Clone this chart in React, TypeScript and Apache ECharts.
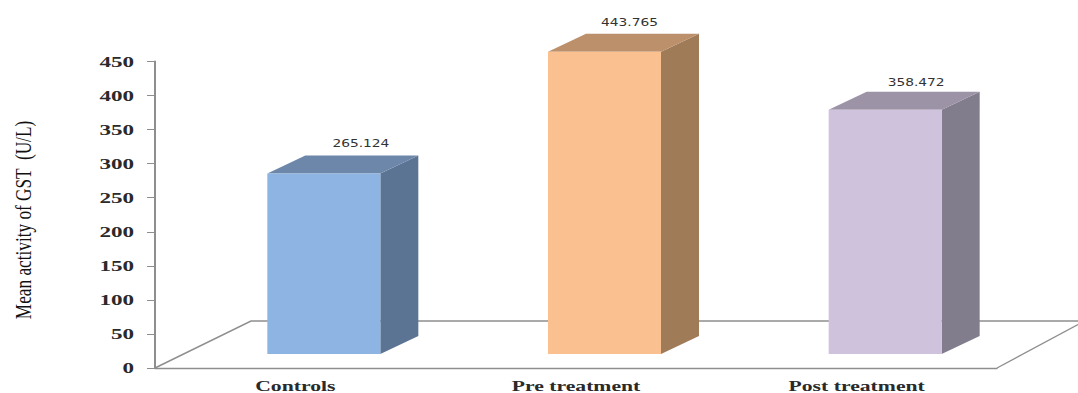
import React, { useEffect, useRef } from "react";
import * as echarts from "echarts";

const categories = ["Controls", "Pre treatment", "Post treatment"];
const meanActivity = [265.124, 443.765, 358.472];
const yTickValues = [0, 50, 100, 150, 200, 250, 300, 350, 400, 450];
const yTitle = "Mean activity of GST  (U/L)";

const frontColors = ["#8DB4E2", "#FBC08F", "#CEC2DC"];
const topColors = ["#6D87AB", "#BB906B", "#9C93A6"];
const sideColors = ["#5C7493", "#A07B58", "#827D8D"];
const labelShift = [37, 25, 31];
const labelLift = [30, 30, 28];

// Pseudo-3D box proportions
const BOX_HALF = 56.5;
const BOX_SHIFT = 28.5;
const FLOOR_LIFT = 14;
const DEPTH_X = 38;
const DEPTH_Y = 18;

const renderBox = (params: any, api: any) => {
  const i = api.value(0);
  const v = api.value(1);
  const [cx, y0] = api.coord([i, 0]);
  const [, yv] = api.coord([i, v]);
  const l = cx + BOX_SHIFT - BOX_HALF;
  const r = cx + BOX_SHIFT + BOX_HALF;
  const b = y0 - FLOOR_LIFT;
  const t = yv - FLOOR_LIFT;
  return {
    type: "group",
    children: [
      {
        type: "polygon",
        shape: { points: [[r, t], [r + DEPTH_X, t - DEPTH_Y], [r + DEPTH_X, b - DEPTH_Y], [r, b]] },
        style: { fill: sideColors[i] },
      },
      {
        type: "polygon",
        shape: { points: [[l, t], [l + DEPTH_X, t - DEPTH_Y], [r + DEPTH_X, t - DEPTH_Y], [r, t]] },
        style: { fill: topColors[i] },
      },
      {
        type: "rect",
        shape: { x: l, y: t, width: r - l, height: b - t },
        style: { fill: frontColors[i] },
      },
      {
        type: "text",
        x: cx + BOX_SHIFT + labelShift[i],
        y: t - labelLift[i],
        scaleX: 1.25,
        style: {
          text: v.toFixed(3),
          fill: "#333333",
          font: '11px "DejaVu Sans"',
          textAlign: "center",
          textVerticalAlign: "middle",
        },
      },
    ],
  };
};

// Floor outline: left edge, back edge and right edge of the base plane
const renderFloor = (params: any) => {
  const { x, y, width, height } = params.coordSys;
  const stroke = { stroke: "#8E8E8E", lineWidth: 1.4, fill: "none" };
  const front = y + height;
  return {
    type: "group",
    children: [
      {
        type: "polyline",
        shape: { points: [[x, front], [x + 96, front - 47], [1078, front - 47]] },
        style: stroke,
      },
      {
        type: "line",
        shape: { x1: x + width, y1: front, x2: 1078, y2: front - 43.5 },
        style: stroke,
      },
    ],
  };
};

// The axis texts are stretched horizontally, which the axis labels cannot do
const renderTickText = (params: any, api: any) => {
  const v = api.value(1);
  const [, y] = api.coord([0, v]);
  return {
    type: "text",
    x: params.coordSys.x - 21,
    y: y + 0.5,
    scaleX: 1.65,
    style: {
      text: String(v),
      fill: "#2A2A2A",
      font: 'bold 14px "Liberation Serif"',
      textAlign: "right",
      textVerticalAlign: "middle",
    },
  };
};

const renderCategoryText = (params: any, api: any) => {
  const i = api.value(0);
  const [cx, y0] = api.coord([i, 0]);
  return {
    type: "text",
    x: cx,
    y: y0 + 18,
    scaleX: 1.55,
    style: {
      text: categories[i],
      fill: "#2A2A2A",
      font: 'bold 14px "Liberation Serif"',
      textAlign: "center",
      textVerticalAlign: "middle",
    },
  };
};

export default function App() {
  const ref = useRef<HTMLDivElement>(null);

  useEffect(() => {
    const chart = echarts.init(ref.current!, null, { renderer: "svg" });
    chart.setOption({
      animation: false,
      backgroundColor: "#FFFFFF",
      grid: { left: 155, top: 61.5, width: 842, height: 306.5 },
      graphic: [
        {
          type: "text",
          x: 23,
          y: 220,
          rotation: Math.PI / 2,
          scaleX: 0.75,
          style: {
            text: yTitle,
            fill: "#111111",
            font: '23px "Liberation Serif"',
            textAlign: "center",
            textVerticalAlign: "middle",
          },
        },
      ],
      xAxis: {
        type: "category",
        data: categories,
        axisTick: { show: false },
        axisLine: { lineStyle: { color: "#8E8E8E", width: 1.4 } },
        axisLabel: { show: false },
      },
      yAxis: {
        type: "value",
        min: yTickValues[0],
        max: yTickValues[yTickValues.length - 1],
        interval: yTickValues[1] - yTickValues[0],
        splitLine: { show: false },
        axisLine: { show: true, lineStyle: { color: "#8E8E8E", width: 2 } },
        axisTick: { show: true, length: 8, lineStyle: { color: "#8E8E8E", width: 1 } },
        axisLabel: { show: false },
      },
      series: [
        {
          type: "custom",
          silent: true,
          clip: false,
          z: 1,
          renderItem: renderFloor,
          data: [[0, 0]],
        },
        {
          type: "custom",
          silent: true,
          clip: false,
          z: 2,
          renderItem: renderBox,
          encode: { x: 0, y: 1 },
          data: meanActivity.map((v, i) => [i, v]),
        },
        {
          type: "custom",
          silent: true,
          clip: false,
          z: 3,
          renderItem: renderTickText,
          encode: { x: 0, y: 1 },
          data: yTickValues.map((v) => [0, v]),
        },
        {
          type: "custom",
          silent: true,
          clip: false,
          z: 3,
          renderItem: renderCategoryText,
          encode: { x: 0, y: 1 },
          data: categories.map((_, i) => [i, 0]),
        },
      ],
    });
    return () => chart.dispose();
  }, []);

  return <div ref={ref} style={{ position: "absolute", left: 0, top: 0, width: 1078, height: 393 }} />;
}
